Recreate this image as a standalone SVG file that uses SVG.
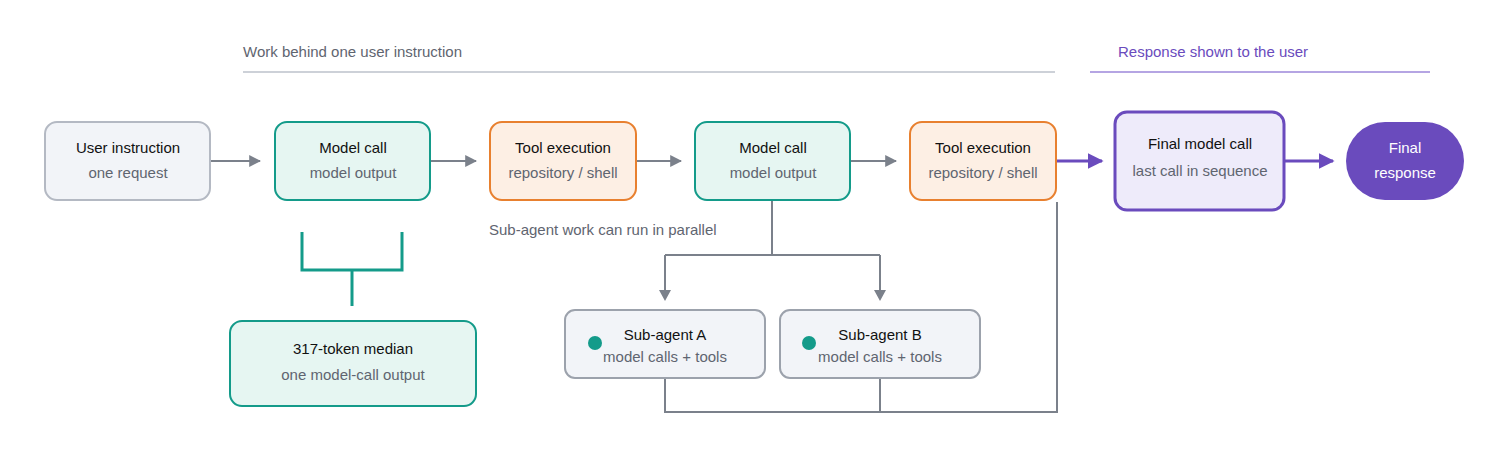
<svg xmlns="http://www.w3.org/2000/svg" width="1500" height="460" viewBox="0 0 1500 460">
<defs>
<style>
text{font-family:"Liberation Sans",Arial,sans-serif;text-anchor:middle}
.t{font-size:15px;fill:#111}
.s{font-size:15px;fill:#5f6570}
.g{fill:none;stroke:#7b818b;stroke-width:2}
.p{fill:none;stroke:#6a4bbd;stroke-width:3}
</style>
<marker id="ag" viewBox="0 0 10 10" refX="9" refY="5" markerWidth="7" markerHeight="7" markerUnits="userSpaceOnUse" orient="auto"><path d="M0,0L10,5L0,10z" fill="#7b818b"/></marker>
<marker id="ag2" viewBox="0 0 10 10" refX="9" refY="5" markerWidth="12" markerHeight="12" orient="auto" markerUnits="userSpaceOnUse"><path d="M0,0L10,5L0,10z" fill="#7b818b"/></marker>
<marker id="ap" viewBox="0 0 10 10" refX="9" refY="5" markerWidth="16" markerHeight="16" orient="auto" markerUnits="userSpaceOnUse"><path d="M0,0L10,5L0,10z" fill="#6a4bbd"/></marker>
</defs>
<rect width="1500" height="460" fill="#fff"/>
<g id="headers">
<text x="243" y="57" style="text-anchor:start;font-size:15px;fill:#5f6570">Work behind one user instruction</text>
<line x1="243" y1="72" x2="1055" y2="72" stroke="#cdd1d8" stroke-width="2"/>
<text x="1118" y="57" style="text-anchor:start;font-size:15px;fill:#6a4bbd">Response shown to the user</text>
<line x1="1090" y1="72" x2="1430" y2="72" stroke="#b5a5e3" stroke-width="2"/>
<text x="489" y="235" style="text-anchor:start;font-size:15px;fill:#5f6570">Sub-agent work can run in parallel</text>
</g>
<g id="connectors">
<line class="g" x1="211" y1="161" x2="260" y2="161" marker-end="url(#ag2)"/>
<line class="g" x1="431" y1="161" x2="476" y2="161" marker-end="url(#ag2)"/>
<line class="g" x1="637" y1="161" x2="681" y2="161" marker-end="url(#ag2)"/>
<line class="g" x1="851" y1="161" x2="896" y2="161" marker-end="url(#ag2)"/>
<line class="p" x1="1057" y1="161" x2="1102" y2="161" marker-end="url(#ap)"/>
<line class="p" x1="1285" y1="161" x2="1333" y2="161" marker-end="url(#ap)"/>
<path class="g" d="M772,200V255M665,255H880M665,255V294M880,255V294"/>
<path d="M665,290l-6,0l6,11l6,-11z M880,290l-6,0l6,11l6,-11z" fill="#7b818b"/>
<path class="g" d="M665,378V412H1057V202M880,378V412"/>
<path d="M302,232V270H402V232M352,270V306" fill="none" stroke="#149b8a" stroke-width="3"/>
</g>
<g id="user"><rect x="45" y="122" width="165" height="78" rx="12" fill="#f2f4f8" stroke="#b4b9c3" stroke-width="2"/><text class="t" x="128" y="153">User instruction</text><text class="s" x="128" y="178">one request</text></g>
<g id="model1"><rect x="275" y="122" width="155" height="78" rx="12" fill="#e6f6f2" stroke="#149b8a" stroke-width="2"/><text class="t" x="353" y="153">Model call</text><text class="s" x="353" y="178">model output</text></g>
<g id="tool1"><rect x="490" y="122" width="146" height="78" rx="12" fill="#fdefe4" stroke="#e8802f" stroke-width="2"/><text class="t" x="563" y="153">Tool execution</text><text class="s" x="563" y="178">repository / shell</text></g>
<g id="model2"><rect x="695" y="122" width="155" height="78" rx="12" fill="#e6f6f2" stroke="#149b8a" stroke-width="2"/><text class="t" x="773" y="153">Model call</text><text class="s" x="773" y="178">model output</text></g>
<g id="tool2"><rect x="910" y="122" width="146" height="78" rx="12" fill="#fdefe4" stroke="#e8802f" stroke-width="2"/><text class="t" x="983" y="153">Tool execution</text><text class="s" x="983" y="178">repository / shell</text></g>
<g id="final-call"><rect x="1115" y="112" width="169" height="98" rx="12" fill="#eeebfa" stroke="#6a4bbd" stroke-width="3"/><text class="t" x="1200" y="149">Final model call</text><text class="s" x="1200" y="176">last call in sequence</text></g>
<g id="final-response"><rect x="1346" y="122" width="118" height="78" rx="39" fill="#6a4bbd"/><text x="1405" y="153" style="font-size:15px;fill:#fff">Final</text><text x="1405" y="178" style="font-size:15px;fill:#fff">response</text></g>
<g id="median"><rect x="230" y="321" width="246" height="85" rx="12" fill="#e6f6f2" stroke="#149b8a" stroke-width="2"/><text class="t" x="353" y="354">317-token median</text><text class="s" x="353" y="380">one model-call output</text></g>
<g id="subA"><rect x="565" y="310" width="200" height="68" rx="10" fill="#f2f4f8" stroke="#9ca2ac" stroke-width="2"/><circle cx="595" cy="343" r="7" fill="#149b8a"/><text class="t" x="665" y="340">Sub-agent A</text><text class="s" x="665" y="362">model calls + tools</text></g>
<g id="subB"><rect x="780" y="310" width="200" height="68" rx="10" fill="#f2f4f8" stroke="#9ca2ac" stroke-width="2"/><circle cx="809" cy="343" r="7" fill="#149b8a"/><text class="t" x="880" y="340">Sub-agent B</text><text class="s" x="880" y="362">model calls + tools</text></g>
</svg>
